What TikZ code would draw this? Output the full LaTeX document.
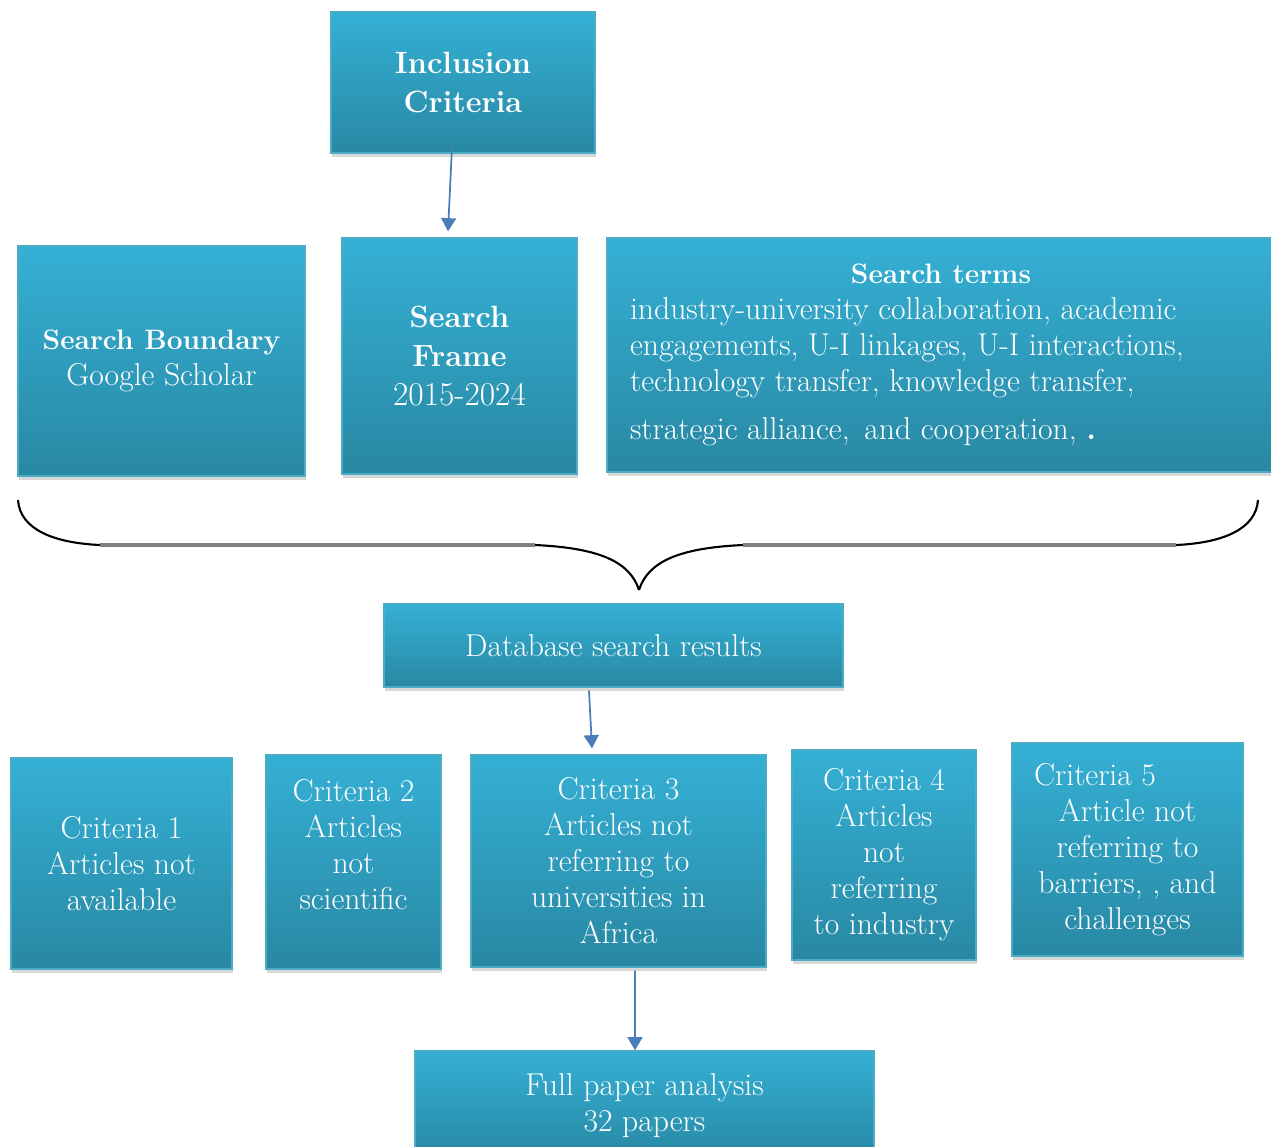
\documentclass[tikz,border=0pt]{standalone}
\usetikzlibrary{arrows.meta,shadows}
\definecolor{boxtop}{RGB}{53,176,213}
\definecolor{boxbot}{RGB}{40,136,163}
\definecolor{boxline}{RGB}{75,172,198}
\definecolor{arrowblue}{RGB}{74,126,187}
\definecolor{bracegray}{RGB}{128,128,128}
\newcommand{\headtext}[1]{{\fontsize{16}{20.5}\selectfont\bfseries #1}}
\newcommand{\bighead}[1]{{\fontsize{17.5}{22}\selectfont\bfseries #1}}
\tikzset{
  stagebox/.style={draw=boxline, line width=0.8pt, top color=boxtop, bottom color=boxbot,
    text=white, align=center, inner sep=0pt, font=\fontsize{18}{20.5}\selectfont,
    drop shadow={opacity=0.3, shadow xshift=0.6pt, shadow yshift=-2.4pt}},
  bigtext/.style={font=\fontsize{19}{22}\selectfont},
  flowarrow/.style={draw=arrowblue, line width=1pt, -{Triangle[width=8.5pt,length=7.5pt]}},
  braceend/.style={draw=black, line width=1.2pt},
  bracemid/.style={draw=bracegray, line width=2pt},
}
\begin{document}
\begin{tikzpicture}[x=0.02cm,y=-0.02cm]
  \useasboundingbox[fill=white] (0,0) rectangle (1271,1146);
  % top
  \node[stagebox, bigtext, minimum width=5.28cm, minimum height=2.82cm] (incl) at (463,82.5)
    {\bighead{Inclusion}\\\bighead{Criteria}};
  % search row
  \node[stagebox, minimum width=5.74cm, minimum height=4.6cm] (boundary) at (161.5,361)
    {\headtext{Search Boundary}\\Google Scholar};
  \node[stagebox, bigtext, minimum width=4.7cm, minimum height=4.72cm] (frame) at (459.5,356)
    {\bighead{Search}\\\bighead{Frame}\\2015-2024};
  \node[stagebox, align=left, minimum width=13.36cm, minimum height=4.68cm] (terms) at (941,355)
    {\makebox[12.44cm]{\headtext{Search terms}}\\
     industry-university collaboration, academic\\
     engagements, U-I linkages, U-I interactions,\\
     technology transfer, knowledge transfer,\\[7pt]
     strategic alliance, \,and cooperation, \textbf{.}};
  % brace
  \coordinate (bl) at (18,500);
  \coordinate (bla) at (100,545);
  \coordinate (blb) at (535,545);
  \coordinate (tip) at (639,590);
  \coordinate (brb) at (743,545);
  \coordinate (bra) at (1176,545);
  \coordinate (br) at (1258,500);
  \draw[braceend] (bl) .. controls (20,530) and (55,543) .. (bla);
  \draw[braceend] (blb) .. controls (600,548) and (630,562) .. (tip);
  \draw[braceend] (tip) .. controls (648,562) and (678,548) .. (brb);
  \draw[braceend] (bra) .. controls (1221,543) and (1256,530) .. (br);
  \draw[bracemid] (bla) -- (blb);
  \draw[bracemid] (brb) -- (bra);
  % results
  \node[stagebox, minimum width=9.18cm, minimum height=1.66cm] (results) at (613.5,645.5)
    {Database search results};
  % exclusion row
  \node[stagebox, minimum width=4.42cm, minimum height=4.22cm] (crit1) at (121.5,863.5)
    {Criteria 1\\Articles not\\available};
  \node[stagebox, minimum width=3.5cm, minimum height=4.28cm] (crit2) at (353.5,862)
    {Criteria 2\\Articles\\not\\scientific\\\mbox{}};
  \node[stagebox, minimum width=5.9cm, minimum height=4.24cm] (crit3) at (618.5,861)
    {Criteria 3\\Articles not\\referring to\\universities in\\Africa};
  \node[stagebox, minimum width=3.68cm, minimum height=4.2cm] (crit4) at (884,855)
    {Criteria 4\\Articles\\not\\referring\\to industry};
  \node[stagebox, minimum width=4.62cm, minimum height=4.26cm] (crit5) at (1127.5,849.5)
    {\makebox[3.74cm][l]{Criteria 5}\\Article not\\referring to\\barriers, , and\\challenges};
  % final
  \node[stagebox, minimum width=9.18cm, minimum height=2.18cm] (full) at (644.5,1105.5)
    {Full paper analysis\\32 papers};
  \begin{scope}
    \draw[flowarrow] ([shift={(-11,-7)}]incl.south) -- ([shift={(-11.5,-6)}]frame.north);
    \draw[flowarrow] ([shift={(-24.5,3)}]results.south) -- ([shift={(-26.5,-6)}]crit3.north);
    \draw[flowarrow] ([shift={(16.5,3)}]crit3.south) -- ([shift={(-9.5,0)}]full.north);
  \end{scope}
\end{tikzpicture}
\end{document}
